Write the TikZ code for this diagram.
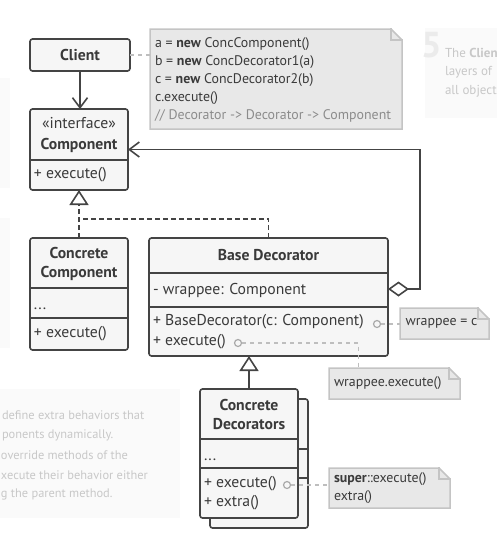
\documentclass[tikz,border=0pt]{standalone}
\usepackage{fontspec}
\setmainfont{PT Sans}
\usepackage{tikz}
\usetikzlibrary{arrows.meta}

\begin{document}
\begin{tikzpicture}[x=1pt,y=-1pt,line cap=rect,
    umlbox/.style={draw=custcol_44_44_44, fill=custcol_f6_f6_f6, line width=1.6pt, rounded corners=2.5pt, inner sep=0pt, outer sep=0pt},
    umltext/.style={inner sep=0pt, outer sep=0pt, text=custcol_3a_3a_3a, font=\fontsize{15.7pt}{19pt}\selectfont},
    umltitle/.style={umltext, font=\fontsize{15.7pt}{19pt}\selectfont\bfseries, align=center},
    umlsep/.style={draw=custcol_44_44_44, line width=1.6pt, line cap=butt},
    umlline/.style={draw=custcol_44_44_44, line width=1.6pt},
    realize/.style={umlline, dash pattern=on 5pt off 3pt, line cap=butt},
    notespot/.style={inner sep=0pt, outer sep=0pt, minimum width=#1},
    notebox/.style={draw=custcol_c4_c4_c4, fill=custcol_e8_e8_e8, line width=1.5pt, line join=miter},
    notetext/.style={inner sep=0pt, outer sep=0pt, text=custcol_3a_3a_3a, font=\fontsize{13.9pt}{18.2pt}\selectfont, align=left},
    noteline/.style={draw=custcol_be_be_be, line width=1.4pt, dash pattern=on 4pt off 4pt, line cap=butt},
    notedot/.style={circle, draw=custcol_aa_aa_aa, fill=custcol_f6_f6_f6, line width=1.2pt, minimum size=7pt, inner sep=0pt},
    fainttext/.style={inner sep=0pt, outer sep=0pt, text=custcol_c8_c8_c8, font=\fontsize{12.4pt}{19pt}\selectfont, anchor=west},
    openhead/.style={-{Straight Barb[length=10pt,width=15pt,line width=1.6pt]}},
    trihead/.style={-{Triangle[open,length=15pt,width=19pt,line width=1.6pt]}}
  ]
    \definecolor{custcol_44_44_44}{RGB}{68, 68, 68}
    \definecolor{custcol_3a_3a_3a}{RGB}{58, 58, 58}
    \definecolor{custcol_f6_f6_f6}{RGB}{246, 246, 246}
    \definecolor{custcol_e8_e8_e8}{RGB}{232, 232, 232}
    \definecolor{custcol_c4_c4_c4}{RGB}{196, 196, 196}
    \definecolor{custcol_be_be_be}{RGB}{190, 190, 190}
    \definecolor{custcol_aa_aa_aa}{RGB}{170, 170, 170}
    \definecolor{custcol_8c_8c_8c}{RGB}{140, 140, 140}
    \definecolor{custcol_fa_fa_fa}{RGB}{250, 250, 250}
    \definecolor{custcol_c8_c8_c8}{RGB}{200, 200, 200}
    \definecolor{custcol_eb_eb_eb}{RGB}{235, 235, 235}
    \def\notebg#1{\filldraw[notebox] (#1.north west) -- ([xshift=-11pt]#1.north east) -- ([yshift=-11pt]#1.north east) -- (#1.south east) -- (#1.south west) -- cycle;
      \draw[notebox, fill=none] ([xshift=-11pt]#1.north east) |- ([yshift=-11pt]#1.north east);}
    \useasboundingbox (0,0) rectangle (497,536);
    \begin{scope}
    \clip (0,0) rectangle (497,536);
    % faded neighbour panels
    \fill[custcol_fa_fa_fa] (0,78) rectangle (10,188);
    \fill[custcol_fa_fa_fa] (0,218) rectangle (10,348);
    \fill[custcol_fa_fa_fa] (0,389) rectangle (180,518);
    \fill[custcol_fa_fa_fa] (425,28) rectangle (497,118);
    \node[fainttext] (blurb1) at (2,415) {define extra behaviors that};
    \node[fainttext] (blurb2) at (2,435) {ponents dynamically.};
    \node[fainttext] (blurb3) at (1,455) {override methods of the};
    \node[fainttext] (blurb4) at (1,475) {xecute their behavior either};
    \node[fainttext] (blurb5) at (1,494) {g the parent method.};
    \node[fainttext, text=custcol_eb_eb_eb, font=\fontsize{36pt}{36pt}\selectfont\bfseries] (step5) at (421,45) {5};
    \node[fainttext, font=\fontsize{13pt}{19pt}\selectfont] (step5a) at (445,53) {The \textbf{Client}};
    \node[fainttext, font=\fontsize{13pt}{19pt}\selectfont] (step5b) at (445,72) {layers of};
    \node[fainttext, font=\fontsize{13pt}{19pt}\selectfont] (step5c) at (445,91) {all objects};
    \end{scope}
    % client and its note
    \node[umlbox, minimum width=100, minimum height=32] (client) at (80,55) {};
    \node[umltitle] (clienttext) at (client.center) {Client};
    \node[notespot=252, minimum height=100, anchor=north west] (note1) at (150,29) {};
    \notebg{note1}
    \node[notetext, anchor=west] (note1text) at ([xshift=5pt,yshift=-1pt]note1.west) {a = \textbf{new} ConcComponent()\\b = \textbf{new} ConcDecorator1(a)\\c = \textbf{new} ConcDecorator2(b)\\c.execute()\\\textcolor{custcol_8c_8c_8c}{// Decorator -> Decorator -> Component}};
    \draw[noteline] (client.east) -- (client.east -| note1.west);
    % component interface
    \node[umlbox, minimum width=98, minimum height=81, anchor=north west] (comp) at (30,109) {};
    \draw[umlsep] (comp.west |- 0,160) -- (comp.east |- 0,160);
    \node[umltext, align=center, font=\fontsize{15.7pt}{21pt}\selectfont] (comptitle) at (79,135) {«interface»\\\textbf{Component}};
    \node[umltext, anchor=west] (compop) at (34,175) {+ execute()};
    \draw[umlline, openhead] (client.south) -- (client.south |- comp.north);
    % concrete component
    \node[umlbox, minimum width=98, minimum height=112, anchor=north west] (ccomp) at (30,238) {};
    \draw[umlsep] (ccomp.west |- 0,288) -- (ccomp.east |- 0,288);
    \draw[umlsep] (ccomp.west |- 0,318) -- (ccomp.east |- 0,318);
    \node[umltitle] (ccomptitle) at (79,263.5) {Concrete\\Component};
    \node[umltext, anchor=base west] (ccompfield) at (34,309) {...};
    \node[umltext, anchor=west] (ccompop) at (34,334) {+ execute()};
    % base decorator
    \node[umlbox, minimum width=239, minimum height=118, anchor=north west] (bdec) at (149,238) {};
    \draw[umlsep] (bdec.west |- 0,273) -- (bdec.east |- 0,273);
    \draw[umlsep] (bdec.west |- 0,307) -- (bdec.east |- 0,307);
    \node[umltitle] (bdectitle) at (268.5,255) {Base Decorator};
    \node[umltext, anchor=west] (bdecfield) at (153,290) {- wrappee: Component};
    \node[umltext, anchor=west] (bdecop1) at (153,322) {+ BaseDecorator(c: Component)};
    \node[umltext, anchor=west] (bdecop2) at (153,342) {+ execute()};
    % realization of the interface
    \draw[realize, trihead] (ccomp.north) -- (comp.south);
    \draw[realize] (bdec.north) |- ([yshift=-29pt]comp.south);
    % aggregation back to the interface
    \draw[umlline, {Diamond[open,length=21pt,width=15pt,line width=1.6pt,fill=white]}-{Straight Barb[length=10pt,width=15pt,line width=1.6pt]}] ([yshift=8pt]bdec.east) -- ++(32,0) |- (comp.east);
    % concrete decorators (stacked)
    \node[umlbox, minimum width=98, minimum height=129, anchor=north west] (cdecback) at (210,399) {};
    \draw[umlsep] (cdecback.west |- 0,449) -- (cdecback.east |- 0,449);
    \draw[umlsep] (cdecback.west |- 0,478) -- (cdecback.east |- 0,478);
    \node[umlbox, minimum width=98, minimum height=129, anchor=north west] (cdec) at (200,389) {};
    \draw[umlsep] (cdec.west |- 0,439) -- (cdec.east |- 0,439);
    \draw[umlsep] (cdec.west |- 0,468) -- (cdec.east |- 0,468);
    \node[umltitle] (cdectitle) at (249,414) {Concrete\\Decorators};
    \node[umltext, anchor=base west] (cdecfield) at (204,460) {...};
    \node[umltext, anchor=west] (cdecop1) at (204,484) {+ execute()};
    \node[umltext, anchor=west] (cdecop2) at (204,503) {+ extra()};
    \draw[umlline, trihead] (cdec.north) -- (cdec.north |- bdec.south);
    % notes on the methods
    \node[notespot=89, minimum height=31, anchor=north west] (note2) at (400,308) {};
    \notebg{note2}
    \node[notetext] (note2text) at ([xshift=-3pt]note2.center) {wrappee = c};
    \node[notedot] (dot2) at (377,324) {};
    \draw[noteline] (dot2) -- (dot2 -| note2.west);
    \node[notespot=131, minimum height=31, anchor=north west] (note3) at (329,368) {};
    \notebg{note3}
    \node[notetext, anchor=west] (note3text) at ([xshift=5pt]note3.west) {wrappee.execute()};
    \node[notedot] (dot3) at (238,343) {};
    \draw[noteline] (dot3) -| ([xshift=-36pt]note3.north);
    \node[notespot=121, minimum height=40, anchor=north west] (note4) at (329,468) {};
    \notebg{note4}
    \node[notetext, anchor=west] (note4text) at ([xshift=5pt]note4.west) {\textbf{super}::execute()\\extra()};
    \node[notedot] (dot4) at (287,485) {};
    \draw[noteline] (dot4) -- (dot4 -| note4.west);
\end{tikzpicture}
\end{document}
